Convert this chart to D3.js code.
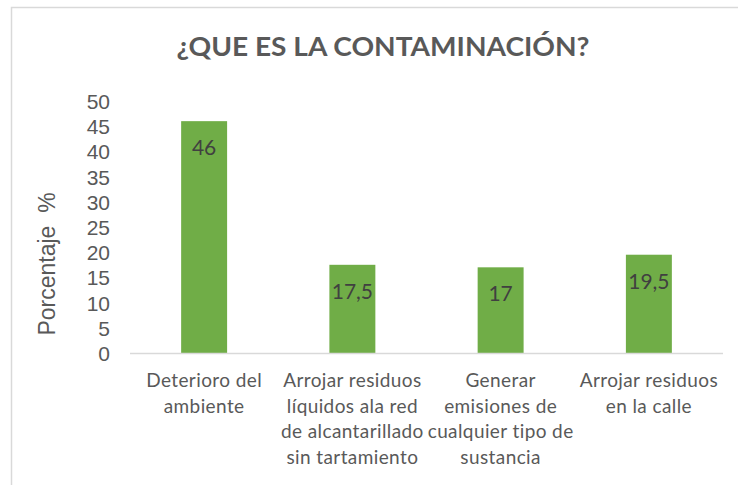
<!DOCTYPE html>
<html><head><meta charset="utf-8">
<script src="https://cdn.jsdelivr.net/npm/d3@7"></script>
<style>body{margin:0;background:#fff}svg{display:block}</style>
</head><body>
<svg id="c" width="738" height="485"></svg>
<script>
const title = "¿QUE ES LA CONTAMINACIÓN?";
const categories = [
  ["Deterioro del", "ambiente"],
  ["Arrojar residuos", "líquidos ala red", "de alcantarillado", "sin tartamiento"],
  ["Generar", "emisiones de", "cualquier tipo de", "sustancia"],
  ["Arrojar residuos", "en la calle"]
];
const values = [46, 17.5, 17, 19.5];
const valueLabels = ["46", "17,5", "17", "19,5"];
const yTicks = [0, 5, 10, 15, 20, 25, 30, 35, 40, 45, 50];
const yTitle = "Porcentaje  %";

const svg = d3.select("#c");
const m = {left: 130, right: 723, top: 101, bottom: 353};

// chart border
svg.append("rect").attr("x", 11.5).attr("y", 7.5).attr("width", 740).attr("height", 490)
  .attr("fill", "none").attr("stroke", "#d9d9d9").attr("stroke-width", 1.5);

const x = d3.scaleBand().domain(d3.range(values.length)).range([m.left, m.right]).paddingInner(0.69).paddingOuter(0.345);
const y = d3.scaleLinear().domain([0, 50]).range([m.bottom, m.top]);

svg.append("text").attr("x", 383).attr("y", 56).attr("text-anchor", "middle")
  .attr("font-family", "Lato, sans-serif").attr("font-weight", "bold").attr("font-size", 26)
  .attr("fill", "#595959").attr("textLength", 413).attr("lengthAdjust", "spacingAndGlyphs").text(title);

// y axis
const ya = svg.append("g").attr("transform", `translate(110,0)`)
  .call(d3.axisLeft(y).tickValues(yTicks).tickSize(0).tickPadding(0));
ya.select(".domain").remove();
ya.selectAll("text").attr("font-family", "'Liberation Sans', Arial, sans-serif").attr("font-size", 21)
  .attr("fill", "#595959").attr("dy", "0.36em");

svg.append("text").attr("transform", "translate(55,264) rotate(-90)").attr("text-anchor", "middle")
  .attr("font-family", "'Liberation Sans', Arial, sans-serif").attr("font-size", 23)
  .attr("fill", "#595959").attr("xml:space", "preserve").style("white-space", "pre").text(yTitle);

// bars
svg.append("g").selectAll("rect").data(values).join("rect")
  .attr("x", (d, i) => x(i)).attr("width", x.bandwidth())
  .attr("y", d => y(d)).attr("height", d => y(0) - y(d))
  .attr("fill", "#70ad47");

// baseline
svg.append("line").attr("x1", m.left).attr("x2", m.right).attr("y1", m.bottom + 0.5).attr("y2", m.bottom + 0.5)
  .attr("stroke", "#d9d9d9").attr("stroke-width", 1.5);

// value labels
svg.append("g").selectAll("text").data(values).join("text")
  .attr("x", (d, i) => x(i) + x.bandwidth() / 2).attr("y", d => y(d) + 34)
  .attr("text-anchor", "middle").attr("font-family", "Lato, sans-serif").attr("font-size", 21)
  .attr("fill", "#404040").text((d, i) => valueLabels[i]);

// category labels
const cg = svg.append("g").selectAll("text").data(categories).join("text")
  .attr("text-anchor", "middle").attr("font-family", "Lato, sans-serif").attr("font-size", 19)
  .attr("letter-spacing", 0.4).attr("fill", "#595959");
cg.each(function(lines, i) {
  d3.select(this).selectAll("tspan").data(lines).join("tspan")
    .attr("x", x(i) + x.bandwidth() / 2).attr("y", (l, j) => 387 + j * 25.7).text(l => l);
});
</script>
</body></html>
